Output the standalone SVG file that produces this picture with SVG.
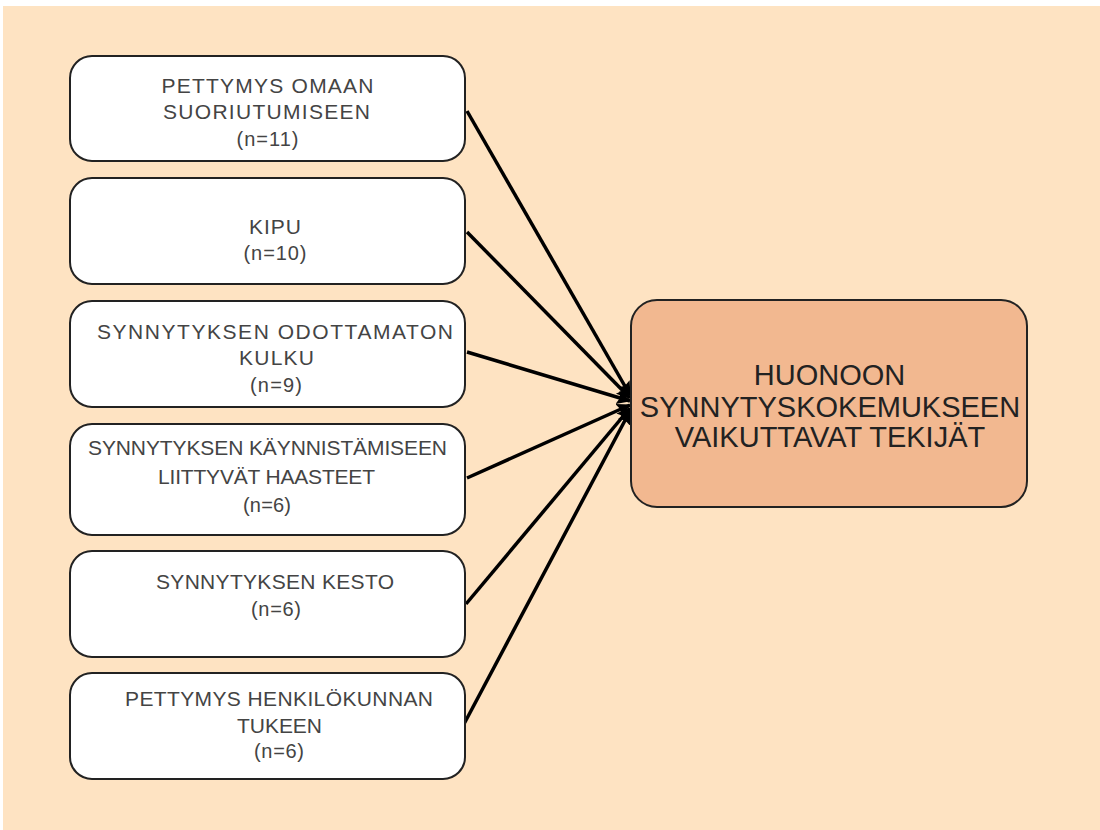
<svg xmlns="http://www.w3.org/2000/svg" width="1100" height="830" viewBox="0 0 1100 830">
<defs>
<style>
.box{fill:#ffffff;stroke:#222222;stroke-width:2}
.main{fill:#f2b890;stroke:#222222;stroke-width:2}
.t{font-family:"Liberation Sans",Arial,sans-serif;font-size:21px;fill:#444444;text-anchor:middle}
.n{font-family:"Liberation Sans",Arial,sans-serif;font-size:20px;fill:#444444;text-anchor:middle}
.big{font-family:"Liberation Sans",Arial,sans-serif;font-size:29px;fill:#222222;text-anchor:middle}
.c{stroke:#000000;stroke-width:3.5;fill:none;marker-end:url(#arr)}
</style>
<marker id="arr" markerUnits="userSpaceOnUse" markerWidth="14" markerHeight="16" viewBox="0 0 14 16" refX="13" refY="8" orient="auto">
<path d="M0,1 L14,8 L0,15 L2.5,8 Z" fill="#000000"/>
</marker>
</defs>
<rect x="0" y="0" width="1100" height="830" fill="#ffffff"/>
<rect x="3" y="6" width="1097" height="824" fill="#fee3c2"/>
<g id="connectors">
<line class="c" x1="467" y1="111" x2="630" y2="395"/>
<line class="c" x1="467" y1="232" x2="630" y2="398"/>
<line class="c" x1="467" y1="352" x2="630" y2="401"/>
<line class="c" x1="467" y1="478" x2="630" y2="405"/>
<line class="c" x1="466" y1="604" x2="630" y2="408"/>
<line class="c" x1="464" y1="724" x2="630" y2="411"/>
</g>
<g id="node1">
<rect class="box" x="70" y="56" width="395" height="105" rx="22" ry="22"/>
<text class="t" x="267.5" y="93" textLength="212" lengthAdjust="spacing">PETTYMYS OMAAN</text>
<text class="t" x="266.5" y="119" textLength="207" lengthAdjust="spacing">SUORIUTUMISEEN</text>
<text class="n" x="267.5" y="146" textLength="62" lengthAdjust="spacing">(n=11)</text>
</g>
<g id="node2">
<rect class="box" x="70" y="178" width="395" height="106" rx="22" ry="22"/>
<text class="t" x="275" y="234" textLength="52" lengthAdjust="spacing">KIPU</text>
<text class="n" x="275" y="260" textLength="63" lengthAdjust="spacing">(n=10)</text>
</g>
<g id="node3">
<rect class="box" x="70" y="301" width="395" height="106" rx="22" ry="22"/>
<text class="t" x="275" y="339" textLength="356" lengthAdjust="spacing">SYNNYTYKSEN ODOTTAMATON</text>
<text class="t" x="276.5" y="365" textLength="75" lengthAdjust="spacing">KULKU</text>
<text class="n" x="276" y="392" textLength="52" lengthAdjust="spacing">(n=9)</text>
</g>
<g id="node4">
<rect class="box" x="70" y="424" width="395" height="111" rx="22" ry="22"/>
<text class="t" x="267.5" y="455" textLength="359" lengthAdjust="spacing">SYNNYTYKSEN KÄYNNISTÄMISEEN</text>
<text class="t" x="266.5" y="484" textLength="217" lengthAdjust="spacing">LIITTYVÄT HAASTEET</text>
<text class="n" x="267" y="512" textLength="48" lengthAdjust="spacing">(n=6)</text>
</g>
<g id="node5">
<rect class="box" x="70" y="551" width="395" height="106" rx="22" ry="22"/>
<text class="t" x="275" y="589" textLength="238" lengthAdjust="spacing">SYNNYTYKSEN KESTO</text>
<text class="n" x="276" y="616" textLength="50" lengthAdjust="spacing">(n=6)</text>
</g>
<g id="node6">
<rect class="box" x="70" y="673" width="395" height="106" rx="22" ry="22"/>
<text class="t" x="279" y="706" textLength="308" lengthAdjust="spacing">PETTYMYS HENKILÖKUNNAN</text>
<text class="t" x="279.5" y="733" textLength="85" lengthAdjust="spacing">TUKEEN</text>
<text class="n" x="279" y="758" textLength="50" lengthAdjust="spacing">(n=6)</text>
</g>
<g id="target">
<rect class="main" x="631" y="300" width="396" height="207" rx="26" ry="26"/>
<text class="big" x="829.5" y="385">HUONOON</text>
<text class="big" x="830" y="417">SYNNYTYSKOKEMUKSEEN</text>
<text class="big" x="830" y="447">VAIKUTTAVAT TEKIJÄT</text>
</g>
</svg>
